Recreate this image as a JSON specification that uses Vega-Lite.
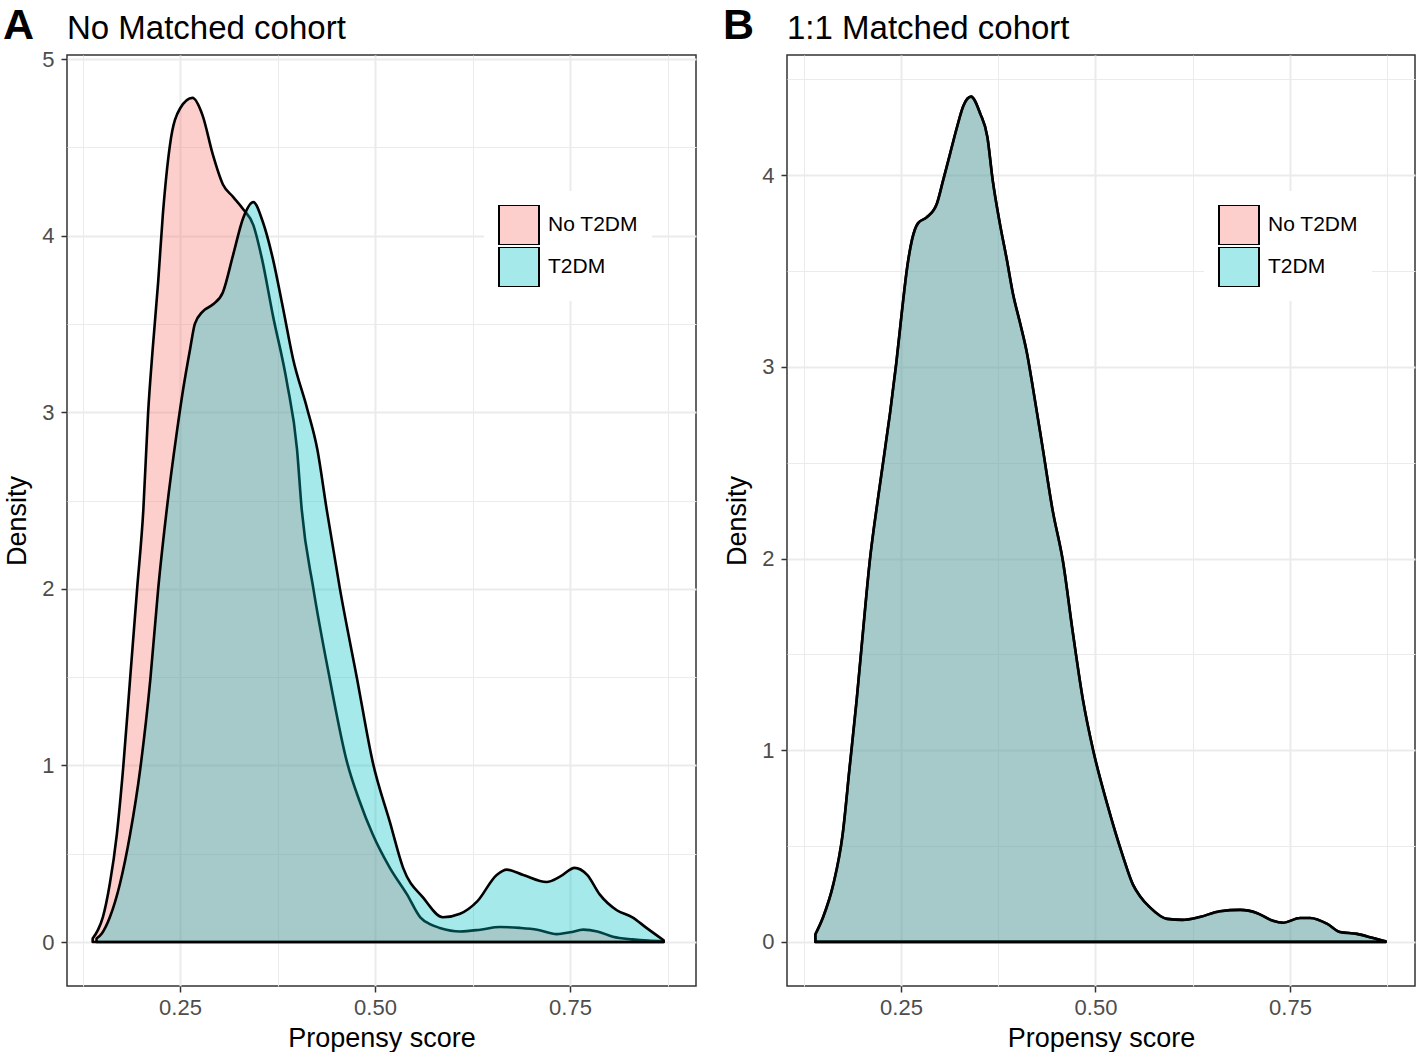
{
  "$schema": "https://vega.github.io/schema/vega-lite/v6.json",
  "background": "white",
  "padding": {"left": 3, "top": 5, "right": 0, "bottom": 0},
  "spacing": 26,
  "config": {
    "font": "Liberation Sans",
    "view": {"stroke": "#333333", "strokeWidth": 1.5},
    "axis": {
      "domain": false,
      "grid": true,
      "gridColor": "#EBEBEB",
      "tickColor": "#333333",
      "tickSize": 6,
      "tickWidth": 1.5,
      "labelColor": "#4D4D4D",
      "labelFont": "Liberation Sans",
      "labelFontSize": 22,
      "labelPadding": 5,
      "labelOverlap": false,
      "labelFlush": false,
      "labelBound": false,
      "titleFont": "Liberation Sans",
      "titleFontSize": 27,
      "titleFontWeight": "normal",
      "titleColor": "black"
    },
    "legend": {
      "orient": "none",
      "title": null,
      "symbolType": "square",
      "symbolSize": 1600,
      "symbolStrokeColor": "black",
      "symbolStrokeWidth": 2,
      "labelFont": "Liberation Sans",
      "labelFontSize": 21,
      "labelColor": "black",
      "labelOffset": 8,
      "clipHeight": 40,
      "rowPadding": 2,
      "padding": 14,
      "fillColor": "white"
    }
  },
  "datasets": {
    "a": [
      {"group": "No T2DM", "score": 0.138, "density": 0.02},
      {"group": "No T2DM", "score": 0.145, "density": 0.07},
      {"group": "No T2DM", "score": 0.151, "density": 0.14},
      {"group": "No T2DM", "score": 0.160, "density": 0.33},
      {"group": "No T2DM", "score": 0.169, "density": 0.61},
      {"group": "No T2DM", "score": 0.177, "density": 0.98},
      {"group": "No T2DM", "score": 0.186, "density": 1.49},
      {"group": "No T2DM", "score": 0.195, "density": 2.0},
      {"group": "No T2DM", "score": 0.203, "density": 2.45},
      {"group": "No T2DM", "score": 0.209, "density": 2.99},
      {"group": "No T2DM", "score": 0.215, "density": 3.36},
      {"group": "No T2DM", "score": 0.222, "density": 3.74},
      {"group": "No T2DM", "score": 0.228, "density": 4.12},
      {"group": "No T2DM", "score": 0.237, "density": 4.51},
      {"group": "No T2DM", "score": 0.250, "density": 4.72},
      {"group": "No T2DM", "score": 0.266, "density": 4.78},
      {"group": "No T2DM", "score": 0.279, "density": 4.68},
      {"group": "No T2DM", "score": 0.292, "density": 4.46},
      {"group": "No T2DM", "score": 0.305, "density": 4.29},
      {"group": "No T2DM", "score": 0.318, "density": 4.22},
      {"group": "No T2DM", "score": 0.331, "density": 4.15},
      {"group": "No T2DM", "score": 0.344, "density": 4.06},
      {"group": "No T2DM", "score": 0.355, "density": 3.87},
      {"group": "No T2DM", "score": 0.369, "density": 3.55},
      {"group": "No T2DM", "score": 0.387, "density": 3.17},
      {"group": "No T2DM", "score": 0.400, "density": 2.79},
      {"group": "No T2DM", "score": 0.406, "density": 2.45},
      {"group": "No T2DM", "score": 0.421, "density": 2.0},
      {"group": "No T2DM", "score": 0.442, "density": 1.49},
      {"group": "No T2DM", "score": 0.464, "density": 1.02},
      {"group": "No T2DM", "score": 0.480, "density": 0.80},
      {"group": "No T2DM", "score": 0.497, "density": 0.61},
      {"group": "No T2DM", "score": 0.519, "density": 0.42},
      {"group": "No T2DM", "score": 0.541, "density": 0.27},
      {"group": "No T2DM", "score": 0.558, "density": 0.14},
      {"group": "No T2DM", "score": 0.571, "density": 0.10},
      {"group": "No T2DM", "score": 0.583, "density": 0.08},
      {"group": "No T2DM", "score": 0.609, "density": 0.06},
      {"group": "No T2DM", "score": 0.635, "density": 0.07},
      {"group": "No T2DM", "score": 0.660, "density": 0.085},
      {"group": "No T2DM", "score": 0.686, "density": 0.08},
      {"group": "No T2DM", "score": 0.708, "density": 0.07},
      {"group": "No T2DM", "score": 0.733, "density": 0.045},
      {"group": "No T2DM", "score": 0.750, "density": 0.055},
      {"group": "No T2DM", "score": 0.767, "density": 0.07},
      {"group": "No T2DM", "score": 0.785, "density": 0.06},
      {"group": "No T2DM", "score": 0.805, "density": 0.03},
      {"group": "No T2DM", "score": 0.830, "density": 0.015},
      {"group": "No T2DM", "score": 0.850, "density": 0.008},
      {"group": "No T2DM", "score": 0.870, "density": 0.005},
      {"group": "T2DM", "score": 0.143, "density": 0.02},
      {"group": "T2DM", "score": 0.150, "density": 0.05},
      {"group": "T2DM", "score": 0.160, "density": 0.14},
      {"group": "T2DM", "score": 0.173, "density": 0.33},
      {"group": "T2DM", "score": 0.186, "density": 0.61},
      {"group": "T2DM", "score": 0.199, "density": 0.98},
      {"group": "T2DM", "score": 0.212, "density": 1.49},
      {"group": "T2DM", "score": 0.222, "density": 2.0},
      {"group": "T2DM", "score": 0.233, "density": 2.45},
      {"group": "T2DM", "score": 0.246, "density": 2.89},
      {"group": "T2DM", "score": 0.254, "density": 3.13},
      {"group": "T2DM", "score": 0.263, "density": 3.36},
      {"group": "T2DM", "score": 0.269, "density": 3.50},
      {"group": "T2DM", "score": 0.279, "density": 3.57},
      {"group": "T2DM", "score": 0.292, "density": 3.61},
      {"group": "T2DM", "score": 0.305, "density": 3.68},
      {"group": "T2DM", "score": 0.318, "density": 3.89},
      {"group": "T2DM", "score": 0.331, "density": 4.10},
      {"group": "T2DM", "score": 0.344, "density": 4.19},
      {"group": "T2DM", "score": 0.356, "density": 4.08},
      {"group": "T2DM", "score": 0.369, "density": 3.87},
      {"group": "T2DM", "score": 0.382, "density": 3.59},
      {"group": "T2DM", "score": 0.395, "density": 3.30},
      {"group": "T2DM", "score": 0.413, "density": 3.02},
      {"group": "T2DM", "score": 0.426, "density": 2.79},
      {"group": "T2DM", "score": 0.438, "density": 2.45},
      {"group": "T2DM", "score": 0.455, "density": 2.0},
      {"group": "T2DM", "score": 0.477, "density": 1.49},
      {"group": "T2DM", "score": 0.497, "density": 1.02},
      {"group": "T2DM", "score": 0.519, "density": 0.68},
      {"group": "T2DM", "score": 0.536, "density": 0.42},
      {"group": "T2DM", "score": 0.562, "density": 0.25},
      {"group": "T2DM", "score": 0.587, "density": 0.14},
      {"group": "T2DM", "score": 0.609, "density": 0.16},
      {"group": "T2DM", "score": 0.631, "density": 0.23},
      {"group": "T2DM", "score": 0.656, "density": 0.38},
      {"group": "T2DM", "score": 0.669, "density": 0.41},
      {"group": "T2DM", "score": 0.690, "density": 0.38},
      {"group": "T2DM", "score": 0.720, "density": 0.34},
      {"group": "T2DM", "score": 0.737, "density": 0.37},
      {"group": "T2DM", "score": 0.756, "density": 0.42},
      {"group": "T2DM", "score": 0.772, "density": 0.38},
      {"group": "T2DM", "score": 0.788, "density": 0.27},
      {"group": "T2DM", "score": 0.810, "density": 0.18},
      {"group": "T2DM", "score": 0.830, "density": 0.14},
      {"group": "T2DM", "score": 0.848, "density": 0.08},
      {"group": "T2DM", "score": 0.870, "density": 0.01}
    ],
    "b": [
      {"group": "No T2DM", "score": 0.140, "density": 0.04},
      {"group": "No T2DM", "score": 0.150, "density": 0.13},
      {"group": "No T2DM", "score": 0.163, "density": 0.30},
      {"group": "No T2DM", "score": 0.175, "density": 0.56},
      {"group": "No T2DM", "score": 0.184, "density": 0.91},
      {"group": "No T2DM", "score": 0.193, "density": 1.26},
      {"group": "No T2DM", "score": 0.201, "density": 1.61},
      {"group": "No T2DM", "score": 0.210, "density": 1.99},
      {"group": "No T2DM", "score": 0.220, "density": 2.30},
      {"group": "No T2DM", "score": 0.227, "density": 2.50},
      {"group": "No T2DM", "score": 0.236, "density": 2.76},
      {"group": "No T2DM", "score": 0.244, "density": 3.02},
      {"group": "No T2DM", "score": 0.251, "density": 3.28},
      {"group": "No T2DM", "score": 0.258, "density": 3.52},
      {"group": "No T2DM", "score": 0.264, "density": 3.66},
      {"group": "No T2DM", "score": 0.272, "density": 3.75},
      {"group": "No T2DM", "score": 0.283, "density": 3.78},
      {"group": "No T2DM", "score": 0.296, "density": 3.85},
      {"group": "No T2DM", "score": 0.304, "density": 3.97},
      {"group": "No T2DM", "score": 0.313, "density": 4.11},
      {"group": "No T2DM", "score": 0.322, "density": 4.25},
      {"group": "No T2DM", "score": 0.330, "density": 4.36},
      {"group": "No T2DM", "score": 0.340, "density": 4.41},
      {"group": "No T2DM", "score": 0.352, "density": 4.32},
      {"group": "No T2DM", "score": 0.361, "density": 4.20},
      {"group": "No T2DM", "score": 0.368, "density": 3.97},
      {"group": "No T2DM", "score": 0.377, "density": 3.75},
      {"group": "No T2DM", "score": 0.386, "density": 3.56},
      {"group": "No T2DM", "score": 0.394, "density": 3.38},
      {"group": "No T2DM", "score": 0.403, "density": 3.23},
      {"group": "No T2DM", "score": 0.412, "density": 3.07},
      {"group": "No T2DM", "score": 0.420, "density": 2.88},
      {"group": "No T2DM", "score": 0.432, "density": 2.58},
      {"group": "No T2DM", "score": 0.445, "density": 2.25},
      {"group": "No T2DM", "score": 0.458, "density": 1.99},
      {"group": "No T2DM", "score": 0.471, "density": 1.61},
      {"group": "No T2DM", "score": 0.484, "density": 1.26},
      {"group": "No T2DM", "score": 0.497, "density": 1.0},
      {"group": "No T2DM", "score": 0.515, "density": 0.72},
      {"group": "No T2DM", "score": 0.535, "density": 0.45},
      {"group": "No T2DM", "score": 0.548, "density": 0.30},
      {"group": "No T2DM", "score": 0.557, "density": 0.24},
      {"group": "No T2DM", "score": 0.570, "density": 0.18},
      {"group": "No T2DM", "score": 0.592, "density": 0.12},
      {"group": "No T2DM", "score": 0.612, "density": 0.115},
      {"group": "No T2DM", "score": 0.634, "density": 0.13},
      {"group": "No T2DM", "score": 0.660, "density": 0.16},
      {"group": "No T2DM", "score": 0.686, "density": 0.167},
      {"group": "No T2DM", "score": 0.708, "density": 0.15},
      {"group": "No T2DM", "score": 0.728, "density": 0.11},
      {"group": "No T2DM", "score": 0.741, "density": 0.10},
      {"group": "No T2DM", "score": 0.763, "density": 0.125},
      {"group": "No T2DM", "score": 0.776, "density": 0.125},
      {"group": "No T2DM", "score": 0.798, "density": 0.094},
      {"group": "No T2DM", "score": 0.814, "density": 0.052},
      {"group": "No T2DM", "score": 0.836, "density": 0.042},
      {"group": "No T2DM", "score": 0.857, "density": 0.02},
      {"group": "No T2DM", "score": 0.873, "density": 0.003},
      {"group": "T2DM", "score": 0.140, "density": 0.04},
      {"group": "T2DM", "score": 0.150, "density": 0.13},
      {"group": "T2DM", "score": 0.163, "density": 0.30},
      {"group": "T2DM", "score": 0.175, "density": 0.56},
      {"group": "T2DM", "score": 0.184, "density": 0.91},
      {"group": "T2DM", "score": 0.193, "density": 1.26},
      {"group": "T2DM", "score": 0.201, "density": 1.61},
      {"group": "T2DM", "score": 0.210, "density": 1.99},
      {"group": "T2DM", "score": 0.220, "density": 2.30},
      {"group": "T2DM", "score": 0.227, "density": 2.50},
      {"group": "T2DM", "score": 0.236, "density": 2.76},
      {"group": "T2DM", "score": 0.244, "density": 3.02},
      {"group": "T2DM", "score": 0.251, "density": 3.28},
      {"group": "T2DM", "score": 0.258, "density": 3.52},
      {"group": "T2DM", "score": 0.264, "density": 3.66},
      {"group": "T2DM", "score": 0.272, "density": 3.75},
      {"group": "T2DM", "score": 0.283, "density": 3.78},
      {"group": "T2DM", "score": 0.296, "density": 3.85},
      {"group": "T2DM", "score": 0.304, "density": 3.97},
      {"group": "T2DM", "score": 0.313, "density": 4.11},
      {"group": "T2DM", "score": 0.322, "density": 4.25},
      {"group": "T2DM", "score": 0.330, "density": 4.36},
      {"group": "T2DM", "score": 0.340, "density": 4.41},
      {"group": "T2DM", "score": 0.352, "density": 4.32},
      {"group": "T2DM", "score": 0.361, "density": 4.20},
      {"group": "T2DM", "score": 0.368, "density": 3.97},
      {"group": "T2DM", "score": 0.377, "density": 3.75},
      {"group": "T2DM", "score": 0.386, "density": 3.56},
      {"group": "T2DM", "score": 0.394, "density": 3.38},
      {"group": "T2DM", "score": 0.403, "density": 3.23},
      {"group": "T2DM", "score": 0.412, "density": 3.07},
      {"group": "T2DM", "score": 0.420, "density": 2.88},
      {"group": "T2DM", "score": 0.432, "density": 2.58},
      {"group": "T2DM", "score": 0.445, "density": 2.25},
      {"group": "T2DM", "score": 0.458, "density": 1.99},
      {"group": "T2DM", "score": 0.471, "density": 1.61},
      {"group": "T2DM", "score": 0.484, "density": 1.26},
      {"group": "T2DM", "score": 0.497, "density": 1.0},
      {"group": "T2DM", "score": 0.515, "density": 0.72},
      {"group": "T2DM", "score": 0.535, "density": 0.45},
      {"group": "T2DM", "score": 0.548, "density": 0.30},
      {"group": "T2DM", "score": 0.557, "density": 0.24},
      {"group": "T2DM", "score": 0.570, "density": 0.18},
      {"group": "T2DM", "score": 0.592, "density": 0.12},
      {"group": "T2DM", "score": 0.612, "density": 0.115},
      {"group": "T2DM", "score": 0.634, "density": 0.13},
      {"group": "T2DM", "score": 0.660, "density": 0.16},
      {"group": "T2DM", "score": 0.686, "density": 0.167},
      {"group": "T2DM", "score": 0.708, "density": 0.15},
      {"group": "T2DM", "score": 0.728, "density": 0.11},
      {"group": "T2DM", "score": 0.741, "density": 0.10},
      {"group": "T2DM", "score": 0.763, "density": 0.125},
      {"group": "T2DM", "score": 0.776, "density": 0.125},
      {"group": "T2DM", "score": 0.798, "density": 0.094},
      {"group": "T2DM", "score": 0.814, "density": 0.052},
      {"group": "T2DM", "score": 0.836, "density": 0.042},
      {"group": "T2DM", "score": 0.857, "density": 0.02},
      {"group": "T2DM", "score": 0.873, "density": 0.003}
    ]
  },
  "resolve": {"scale": {"color": "independent"}, "legend": {"color": "independent"}},
  "hconcat": [
    {
      "title": {"text": "A", "font": "Liberation Sans", "fontSize": 43, "fontWeight": "bold", "color": "black", "anchor": "start", "frame": "bounds", "dy": 40},
      "resolve": {"scale": {"color": "independent"}, "legend": {"color": "independent"}},
      "vconcat": [
        {
          "title": {"text": "No Matched cohort", "font": "Liberation Sans", "fontSize": 33, "fontWeight": "normal", "color": "black", "anchor": "start", "frame": "group", "offset": 2},
          "width": 629,
          "height": 931,
          "data": {"name": "a"},
          "mark": {"type": "area", "interpolate": "monotone", "stroke": "black", "strokeWidth": 2.6, "strokeJoin": "round"},
          "encoding": {
            "x": {
              "field": "score", "type": "quantitative",
              "scale": {"domain": [0.1051, 0.9115], "nice": false, "zero": false},
              "axis": {
                "title": "Propensy score",
                "values": [0.125, 0.25, 0.375, 0.5, 0.625, 0.75, 0.875],
                "labelExpr": "indexof([0.25, 0.5, 0.75], datum.value) >= 0 ? format(datum.value, '.2f') : ''",
                "gridWidth": {"condition": {"test": "indexof([0.25, 0.5, 0.75], datum.value) >= 0", "value": 2}, "value": 1},
                "tickOpacity": {"condition": {"test": "indexof([0.25, 0.5, 0.75], datum.value) >= 0", "value": 1}, "value": 0},
                "titlePadding": 7
              }
            },
            "y": {
              "field": "density", "type": "quantitative", "stack": null,
              "scale": {"domain": [-0.249, 5.023], "nice": false, "zero": false},
              "axis": {
                "title": "Density",
                "values": [0, 0.5, 1, 1.5, 2, 2.5, 3, 3.5, 4, 4.5, 5],
                "labelExpr": "datum.value % 1 == 0 ? format(datum.value, 'd') : ''",
                "gridWidth": {"condition": {"test": "datum.value % 1 == 0", "value": 2}, "value": 1},
                "tickOpacity": {"condition": {"test": "datum.value % 1 == 0", "value": 1}, "value": 0},
                "labelPadding": 7,
                "titlePadding": 10
              }
            },
            "color": {
              "field": "group", "type": "nominal",
              "scale": {"domain": ["No T2DM", "T2DM"], "range": ["rgba(248,118,109,0.35)", "rgba(0,191,196,0.35)"]},
              "legend": {"legendX": 417, "legendY": 136}
            }
          }
        }
      ]
    },
    {
      "title": {"text": "B", "font": "Liberation Sans", "fontSize": 43, "fontWeight": "bold", "color": "black", "anchor": "start", "frame": "bounds", "dy": 40},
      "resolve": {"scale": {"color": "independent"}, "legend": {"color": "independent"}},
      "vconcat": [
        {
          "title": {"text": "1:1 Matched cohort", "font": "Liberation Sans", "fontSize": 33, "fontWeight": "normal", "color": "black", "anchor": "start", "frame": "group", "offset": 9},
          "width": 628,
          "height": 931,
          "data": {"name": "b"},
          "mark": {"type": "area", "interpolate": "monotone", "stroke": "black", "strokeWidth": 2.6, "strokeJoin": "round"},
          "encoding": {
            "x": {
              "field": "score", "type": "quantitative",
              "scale": {"domain": [0.1035, 0.9107], "nice": false, "zero": false},
              "axis": {
                "title": "Propensy score",
                "values": [0.125, 0.25, 0.375, 0.5, 0.625, 0.75, 0.875],
                "labelExpr": "indexof([0.25, 0.5, 0.75], datum.value) >= 0 ? format(datum.value, '.2f') : ''",
                "gridWidth": {"condition": {"test": "indexof([0.25, 0.5, 0.75], datum.value) >= 0", "value": 2}, "value": 1},
                "tickOpacity": {"condition": {"test": "indexof([0.25, 0.5, 0.75], datum.value) >= 0", "value": 1}, "value": 0},
                "titlePadding": 7
              }
            },
            "y": {
              "field": "density", "type": "quantitative", "stack": null,
              "scale": {"domain": [-0.23, 4.627], "nice": false, "zero": false},
              "axis": {
                "title": "Density",
                "values": [0, 0.5, 1, 1.5, 2, 2.5, 3, 3.5, 4, 4.5],
                "labelExpr": "datum.value % 1 == 0 ? format(datum.value, 'd') : ''",
                "gridWidth": {"condition": {"test": "datum.value % 1 == 0", "value": 2}, "value": 1},
                "tickOpacity": {"condition": {"test": "datum.value % 1 == 0", "value": 1}, "value": 0},
                "labelPadding": 7,
                "titlePadding": 10
              }
            },
            "color": {
              "field": "group", "type": "nominal",
              "scale": {"domain": ["No T2DM", "T2DM"], "range": ["rgba(248,118,109,0.35)", "rgba(0,191,196,0.35)"]},
              "legend": {"legendX": 417, "legendY": 136}
            }
          }
        }
      ]
    }
  ]
}
